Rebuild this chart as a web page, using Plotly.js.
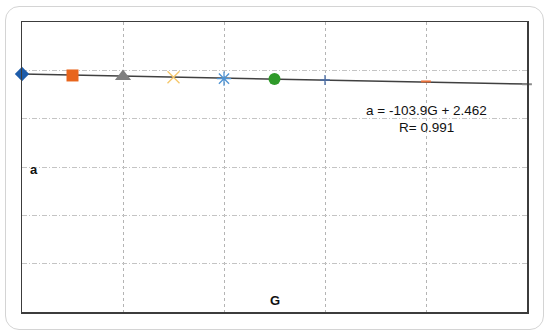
<!DOCTYPE html>
<html>
<head>
<meta charset="utf-8">
<script src="https://cdn.plot.ly/plotly-3.0.1.min.js"></script>
<style>
  body { margin: 0; background: #fff; }
  #wrap { position: relative; width: 550px; height: 336px; }
  #frame {
    position: absolute; left: 5px; top: 6px; width: 537px; height: 322px;
    border: 1.5px solid #d4d4d4; border-radius: 14px; pointer-events: none;
  }
</style>
</head>
<body>
<div id="wrap">
  <div id="chart" style="width:550px;height:336px;"></div>
  <div id="frame"></div>
</div>
<script>
var gValues = [0, 0.0001, 0.0002, 0.0003, 0.0004, 0.0005, 0.0006, 0.0008, 0.001];
var aValues = [2.462, 2.447, 2.436, 2.428, 2.414, 2.410, 2.400, 2.385, 2.356];

// excel-like marker styles per point
var symbols = ['diamond', 'square', 'triangle-up', 'x-thin-open', 'asterisk-open',
               'circle', 'cross-thin-open', 'line-ew-open', 'line-ew-open'];
var colors = ['#1d5caa', '#e8651c', '#7f7f7f', '#f5c76a', '#4f93d2',
              '#2f9a2a', '#4a6ea8', '#e8703a', '#8a8a8a'];
var sizes = [11, 12, 14, 12, 12, 12, 7, 7, 7];
var lineWidths = [0, 0, 0, 1.3, 1.3, 0, 1.3, 2, 2];

// linear trendline endpoints
var trendG = [0, 0.001];
var trendA = [2.462, 2.358];

var data = [
    {
        type: 'scatter',
        mode: 'lines',
        x: trendG,
        y: trendA,
        line: { color: '#404040', width: 1.5 },
        hoverinfo: 'skip',
        showlegend: false,
        cliponaxis: false
    },
    {
        type: 'scatter',
        mode: 'markers',
        x: gValues,
        y: aValues,
        marker: {
            symbol: symbols,
            color: colors,
            size: sizes,
            opacity: 1,
            line: { color: colors, width: lineWidths }
        },
        showlegend: false,
        cliponaxis: false
    }
];

var layout = {
    width: 550,
    height: 336,
    margin: { l: 22, r: 23, t: 22, b: 24 },
    paper_bgcolor: 'white',
    plot_bgcolor: 'white',
    font: { family: 'Liberation Sans, Arial, sans-serif', color: '#222' },
    xaxis: {
        range: [0, 0.001], dtick: 0.0002, tick0: 0,
        showticklabels: false, ticks: '', zeroline: false,
        showgrid: true, gridcolor: '#b4b4b4', griddash: '3px,3px', gridwidth: 1,
        showline: true, mirror: true, linecolor: '#3c3c3c', linewidth: 1.5
    },
    yaxis: {
        range: [0, 3], dtick: 0.5, tick0: 0,
        showticklabels: false, ticks: '', zeroline: false,
        showgrid: true, gridcolor: '#c4c4c4', griddash: '5px,2px,1px,2px', gridwidth: 1,
        showline: true, mirror: true, linecolor: '#3c3c3c', linewidth: 1.5
    },
    annotations: [
        { text: '<b>a</b>', xref: 'paper', yref: 'paper', x: 0.024, y: 0.49,
          xanchor: 'center', yanchor: 'middle',
          showarrow: false, font: { size: 13, color: '#111' } },
        { text: '<b>G</b>', xref: 'paper', yref: 'paper', x: 0.501, y: 0.041,
          xanchor: 'center', yanchor: 'middle',
          showarrow: false, font: { size: 13, color: '#111' } },
        { text: 'a = -103.9G + 2.462', xref: 'paper', yref: 'paper', x: 0.800, y: 0.695,
          xanchor: 'center', yanchor: 'middle',
          showarrow: false, font: { size: 13.5, color: '#111' } },
        { text: 'R= 0.991', xref: 'paper', yref: 'paper', x: 0.800, y: 0.635,
          xanchor: 'center', yanchor: 'middle',
          showarrow: false, font: { size: 13.5, color: '#111' } }
    ]
};

Plotly.newPlot('chart', data, layout, { displayModeBar: false, staticPlot: true });
</script>
</body>
</html>
